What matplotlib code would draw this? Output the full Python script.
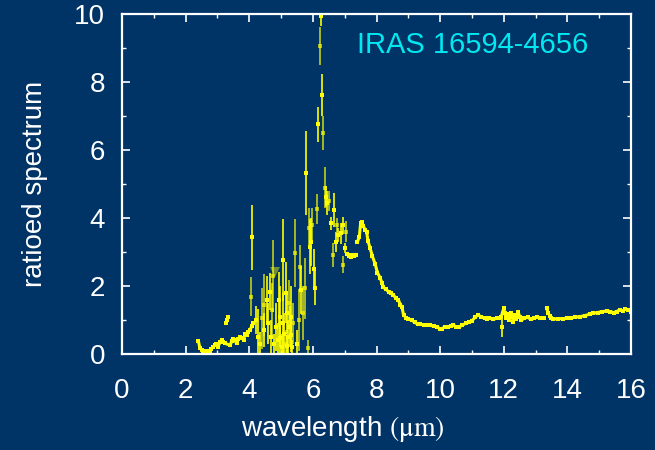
import matplotlib
matplotlib.use("Agg")
import matplotlib.pyplot as plt
import numpy as np

plt.rcParams['font.family'] = ['Liberation Sans', 'DejaVu Sans']
plt.rcParams['mathtext.fontset'] = 'stix'

# --- continuous low-noise segments (wavelength um, ratio) ---
seg_a_x = [2.40, 2.45, 2.50, 2.56, 2.63, 2.71, 2.76, 2.81, 2.87, 2.92, 2.97, 3.02,
           3.08, 3.13, 3.19, 3.24, 3.40, 3.45, 3.50, 3.55, 3.60, 3.66, 3.71, 3.77,
           3.82, 3.87, 3.92, 3.97, 4.02, 4.08, 4.13]
seg_a_y = [0.39, 0.17, 0.12, 0.10, 0.08, 0.07, 0.10, 0.15, 0.22, 0.26, 0.30, 0.21,
           0.35, 0.41, 0.36, 0.31, 0.26, 0.38, 0.45, 0.40, 0.31, 0.45, 0.51, 0.48,
           0.41, 0.60, 0.55, 0.66, 0.70, 0.82, 0.90]

seg_b_x = [3.28, 3.30, 3.33]
seg_b_y = [0.92, 1.00, 1.08]

seg_c_x = [7.08, 7.12, 7.16, 7.20, 7.25, 7.30, 7.35]
seg_c_y = [2.95, 2.88, 2.92, 2.85, 2.90, 2.87, 2.92]

seg_d_x = [7.40, 7.46, 7.50, 7.54, 7.59, 7.64, 7.69, 7.73, 7.80, 7.87, 7.96, 8.03,
           8.11, 8.17, 8.22, 8.30, 8.38, 8.45, 8.53, 8.60, 8.69, 8.75, 8.80, 8.85,
           8.93, 9.00, 9.11, 9.20, 9.30, 9.37, 9.50, 9.60, 9.69, 9.80, 9.90, 10.00,
           10.05, 10.15, 10.25, 10.35, 10.42, 10.50, 10.60, 10.70, 10.80, 10.90,
           11.00, 11.10, 11.20, 11.30, 11.40, 11.47, 11.55, 11.65, 11.78, 11.85,
           11.92, 12.00, 12.03, 12.08, 12.12, 12.17, 12.22, 12.27, 12.30, 12.35,
           12.40, 12.45, 12.50, 12.55, 12.65, 12.75, 12.85, 12.95, 13.04, 13.15, 13.25]
seg_d_y = [3.30, 3.45, 3.84, 3.89, 3.76, 3.65, 3.60, 3.33, 3.11, 2.88, 2.64, 2.39,
           2.25, 2.10, 1.96, 1.90, 1.83, 1.78, 1.74, 1.65, 1.59, 1.45, 1.39, 1.15,
           1.06, 1.02, 1.00, 0.93, 0.88, 0.87, 0.86, 0.85, 0.84, 0.82, 0.80, 0.74,
           0.74, 0.80, 0.79, 0.83, 0.85, 0.80, 0.80, 0.85, 0.90, 0.93,
           0.98, 1.08, 1.15, 1.08, 1.05, 1.04, 1.07, 1.02, 1.05, 1.05,
           1.10, 1.34, 1.22, 1.05, 1.18, 1.00, 1.20, 1.08, 0.95, 1.15,
           1.02, 1.25, 1.10, 1.00, 1.05, 1.08, 1.02, 1.05, 1.08, 1.05, 1.05]

seg_e_x = [13.35, 13.40, 13.45, 13.50, 13.56, 13.70, 13.85, 13.98, 14.10, 14.25,
           14.40, 14.55, 14.70, 14.82, 14.95, 15.10, 15.24, 15.35, 15.45, 15.55,
           15.65, 15.75, 15.82, 15.90, 16.00]
seg_e_y = [1.34, 1.20, 1.12, 1.06, 1.03, 1.04, 1.04, 1.05, 1.07, 1.08,
           1.10, 1.13, 1.17, 1.20, 1.22, 1.25, 1.26, 1.25, 1.22, 1.25,
           1.30, 1.27, 1.33, 1.30, 1.25]

# --- noisy 4-7 um points with large errors ---
bright_x = [4.09, 4.21, 4.29, 4.35, 4.45, 4.55, 4.60, 4.65, 4.68, 4.78, 4.85, 4.90,
            4.93, 4.97, 4.98, 5.02, 5.05, 5.07, 5.10, 5.15, 5.18, 5.20, 5.22, 5.28,
            5.30, 5.32, 5.35, 5.50, 5.62, 5.79, 5.91, 5.94, 6.04, 6.07, 6.17, 6.25,
            6.30, 6.40, 6.44, 6.56, 6.67, 6.73, 6.80, 6.87, 6.94, 7.01, 11.96]
bright_y = [3.43, 1.00, 0.51, 0.30, 0.70, 1.59, 0.90, 1.83, 0.50, 0.30, 0.80, 0.40,
            1.60, 1.10, 0.46, 0.20, 0.90, 2.76, 0.60, 1.80, 1.20, 0.25, 0.50, 0.80,
            1.10, 0.56, 0.20, 0.30, 1.88, 5.33, 3.16, 3.30, 2.50, 1.93, 6.76, 9.94,
            7.62, 4.63, 4.43, 3.84, 4.24, 3.30, 3.50, 3.55, 3.79, 3.11, 0.80]
bright_e = [0.95, 0.40, 0.80, 0.35, 0.50, 0.70, 0.60, 0.55, 0.50, 0.30, 0.70, 0.50,
            0.80, 0.90, 0.50, 0.40, 0.90, 1.20, 0.60, 0.90, 0.60, 0.25, 0.50, 0.60,
            0.90, 0.50, 0.20, 0.40, 0.70, 1.24, 0.80, 0.70, 0.60, 0.50, 0.51, 0.30,
            0.63, 0.30, 0.35, 0.20, 0.50, 0.30, 0.20, 0.30, 0.25, 0.15, 0.30]

dim_x = [4.06, 4.39, 4.47, 4.71, 4.74, 5.14, 5.25, 5.38, 5.44, 5.55, 5.58, 5.68,
         5.75, 5.86, 5.88, 5.98, 6.13, 6.23, 6.33, 6.37, 6.50, 6.62, 6.77, 6.96, 7.04]
dim_y = [1.69, 1.05, 1.44, 1.29, 2.30, 0.30, 1.49, 0.90, 2.96, 1.00, 2.57, 1.20,
         1.93, 0.17, 3.70, 3.80, 4.26, 9.06, 6.51, 4.89, 4.50, 2.91, 3.79, 2.62, 3.60]
dim_e = [0.58, 0.90, 0.90, 0.80, 1.05, 0.40, 0.70, 0.60, 1.00, 0.90, 0.65, 0.80,
         0.90, 0.25, 0.60, 0.50, 0.45, 0.56, 0.50, 0.60, 0.30, 0.35, 0.20, 0.25, 0.30]

limit_x = [4.81]
limit_y = [2.42]

bg = '#003366'
yellow = '#ffff00'

fig = plt.figure(figsize=(6.55, 4.5), dpi=100, facecolor=bg)
ax = fig.add_axes([122 / 655, 1 - 354 / 450, 509 / 655, 340 / 450])
ax.set_facecolor(bg)

# dim (olive looking) error points first, bright on top
ax.errorbar(dim_x, dim_y, yerr=dim_e, fmt='s', ms=2.8, color=yellow, ecolor=yellow,
            elinewidth=1.4, capsize=1.5, alpha=0.65, mew=0)
ax.plot(limit_x, limit_y, 'v', color=yellow, ms=7, alpha=0.45, mew=0)

for sx, sy in [(seg_a_x, seg_a_y), (seg_b_x, seg_b_y), (seg_c_x, seg_c_y),
               (seg_d_x, seg_d_y), (seg_e_x, seg_e_y)]:
    ax.plot(sx, sy, '-', color=yellow, lw=2.2, solid_joinstyle='round')
    ax.plot(sx, sy, 's', color=yellow, ms=3.2, mew=0)

ax.errorbar(bright_x, bright_y, yerr=bright_e, fmt='s', ms=2.8, color=yellow,
            ecolor=yellow, elinewidth=1.2, capsize=1.5, mew=0)

ax.set_xlim(0, 16)
ax.set_ylim(0, 10)
ax.set_xticks(np.arange(0, 17, 2))
ax.set_yticks(np.arange(0, 11, 2))
ax.set_xticks(np.arange(0, 17, 1), minor=True)
ax.set_yticks(np.arange(0, 11, 1), minor=True)
ax.tick_params(which='both', direction='in', top=True, right=True, colors='white',
               labelsize=20)
ax.tick_params(which='major', length=6, width=1.2)
ax.tick_params(which='minor', length=3, width=1.0)
ax.tick_params(axis='x', pad=17)
ax.tick_params(axis='y', pad=12)
for s in ax.spines.values():
    s.set_color('white')
    s.set_linewidth(1.6)

ax.set_ylabel('ratioed spectrum', color='white', fontsize=20)
ax.yaxis.set_label_coords(-0.145, 0.5)
ax.set_xlabel(r'wavelength $(\mathrm{\mu m})$', color='white', fontsize=20)
ax.xaxis.set_label_coords(0.434, -0.175)

ax.text(0.462, 0.909, 'IRAS 16594-4656', transform=ax.transAxes, color='#00e8f0',
        fontsize=21, ha='left', va='center')

fig.savefig('out.png', dpi=100, facecolor=bg)
